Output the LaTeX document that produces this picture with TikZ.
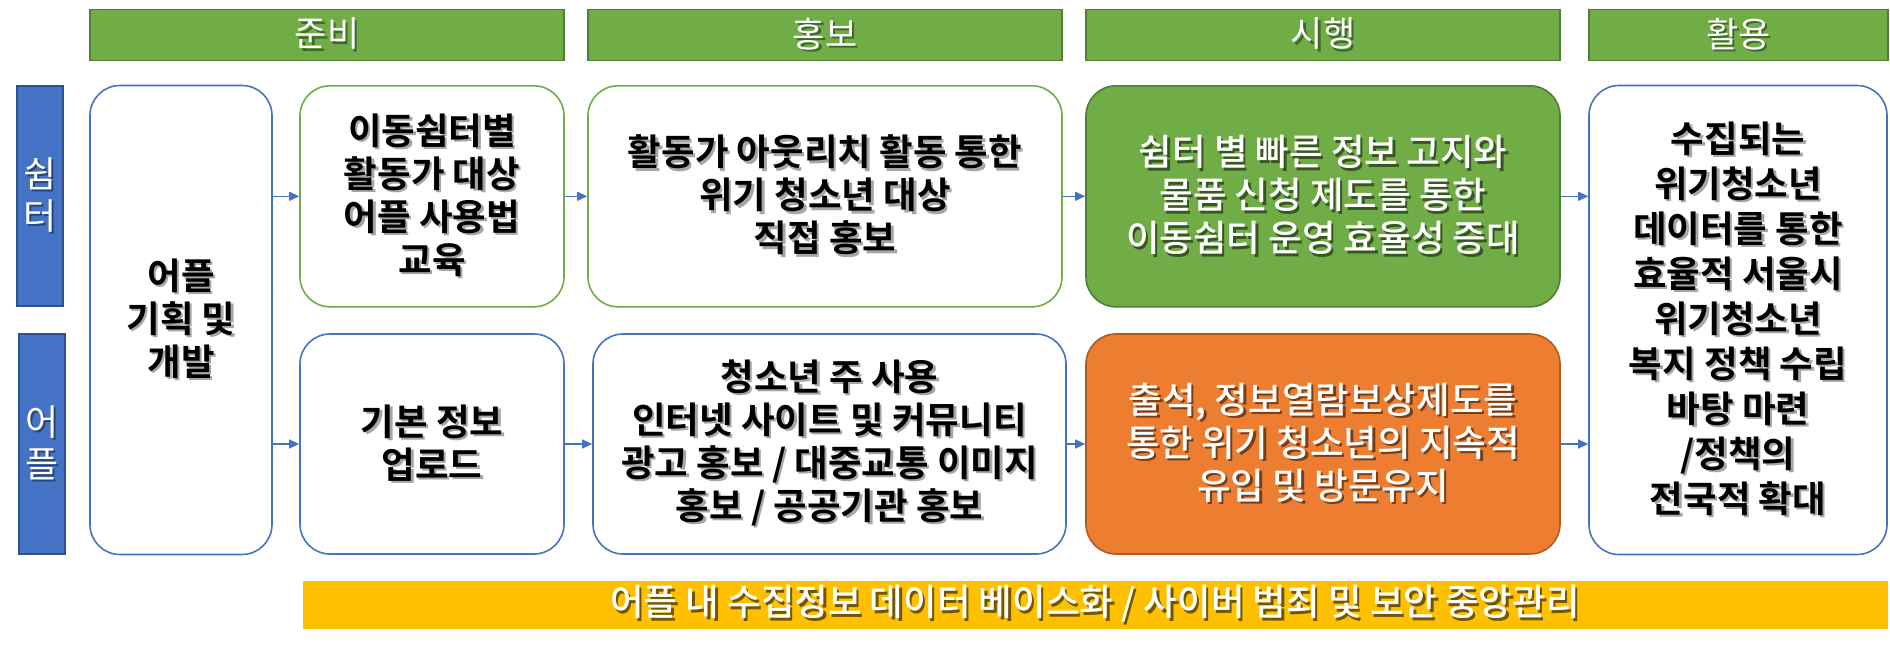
\documentclass[tikz,border=0pt]{standalone}
\usepackage{fontspec}
\newfontfamily\kr{Noto Sans CJK KR}[BoldFont={Noto Sans CJK KR Bold}]
\newfontfamily\krm{Noto Sans CJK KR Medium}
\usetikzlibrary{arrows.meta}
\definecolor{hgreen}{HTML}{70AD47}
\definecolor{hgreenb}{HTML}{507E32}
\definecolor{hblue}{HTML}{4472C4}
\definecolor{hblueb}{HTML}{2F528F}
\definecolor{horange}{HTML}{ED7D31}
\definecolor{horangeb}{HTML}{AE5A21}
\definecolor{hyellow}{HTML}{FFC000}
\newcommand\shcol{black!35}
\newcommand\sh[1]{\makebox[0pt][l]{\kern2.4pt\raisebox{-2.4pt}{\color{\shcol}#1}}#1}
\tikzset{
  basefont/.style={font={\krm\fontsize{36.5}{43}\selectfont}, align=center, inner sep=0pt},
  header/.style={basefont, font={\kr\fontsize{35}{43}\selectfont}, draw=hgreenb, fill=hgreen, line width=1.6pt, text=white,
    minimum height=51pt, execute at begin node={\def\shcol{black!40!hgreen}}},
  sidelab/.style={basefont, font={\kr\fontsize{36}{42}\selectfont}, draw=hblueb, fill=hblue, line width=1.6pt, text=white,
    minimum width=46pt, minimum height=220pt, execute at begin node={\def\shcol{black!40!hblue}}},
  wbox/.style={basefont, draw=hblue, fill=white, line width=1.6pt, rounded corners=30pt, text=black,
    font={\kr\bfseries\fontsize{36.5}{43}\selectfont}},
  gbox/.style={wbox, draw=hgreen},
  fbox/.style={basefont, draw=hgreenb, fill=hgreen, line width=1.6pt, rounded corners=30pt, text=white,
    execute at begin node={\def\shcol{black!50!hgreen}}},
  obox/.style={basefont, draw=horangeb, fill=horange, line width=1.6pt, rounded corners=30pt, text=white,
    execute at begin node={\def\shcol{black!50!horange}}},
  ybar/.style={basefont, fill=hyellow, text=white, minimum height=48pt,
    execute at begin node={\def\shcol{black!55!hyellow}}},
  conn/.style={draw=hblue, line width=1.2pt, -{Triangle[length=10pt,width=9pt]}},
}
\begin{document}
\begin{tikzpicture}[x=1pt,y=-1pt]
\useasboundingbox (0,0) rectangle (1890,654);
% headers
\node[header, minimum width=474pt] (h1) at (327,35) {\sh{준비}};
\node[header, minimum width=474pt] (h2) at (825,35) {\sh{홍보}};
\node[header, minimum width=474pt] (h3) at (1323,35) {\sh{시행}};
\node[header, minimum width=299pt] (h4) at (1738.5,35) {\sh{활용}};
% side labels
\node[sidelab] (l1) at (40,196) {\sh{쉼}\\\sh{터}};
\node[sidelab] (l2) at (42,444) {\sh{어}\\\sh{플}};
% boxes
\node[wbox, minimum width=182pt, minimum height=469pt] (app) at (181,320) {\sh{어플}\\\sh{기획 및}\\\sh{개발}};
\node[gbox, minimum width=264pt, minimum height=221pt] (b11) at (432,196.3) {\sh{이동쉼터별}\\\sh{활동가 대상}\\\sh{어플 사용법}\\\sh{교육}};
\node[wbox, minimum width=264pt, minimum height=220pt] (b21) at (432,444) {\sh{기본 정보}\\\sh{업로드}};
\node[gbox, minimum width=474pt, minimum height=221pt] (b12) at (825,196.3) {\sh{활동가 아웃리치 활동 통한}\\\sh{위기 청소년 대상}\\\sh{직접 홍보}};
\node[wbox, minimum width=473pt, minimum height=220pt] (b22) at (829.5,444) {\sh{청소년 주 사용}\\\sh{인터넷 사이트 및 커뮤니티}\\\sh{광고 홍보 / 대중교통 이미지}\\\sh{홍보 / 공공기관 홍보}};
\node[fbox, minimum width=474pt, minimum height=221pt] (b13) at (1323,196.3) {\sh{쉼터 별 빠른 정보 고지와}\\\sh{물품 신청 제도를 통한}\\\sh{이동쉼터 운영 효율성 증대}};
\node[obox, minimum width=474pt, minimum height=220pt] (b23) at (1323,444) {\sh{출석, 정보열람보상제도를}\\\sh{통한 위기 청소년의 지속적}\\\sh{유입 및 방문유지}};
\node[wbox, minimum width=298pt, minimum height=469pt, font={\kr\bfseries\fontsize{36.5}{45}\selectfont}] (res) at (1738,320) {\sh{수집되는}\\\sh{위기청소년}\\\sh{데이터를 통한}\\\sh{효율적 서울시}\\\sh{위기청소년}\\\sh{복지 정책 수립}\\\sh{바탕 마련}\\\sh{/정책의}\\\sh{전국적 확대}};
\node[ybar, minimum width=1585pt] (bar) at (1095,605) {\sh{어플 내 수집정보 데이터 베이스화 / 사이버 범죄 및 보안 중앙관리}};
% connectors
\draw[conn] (app.east |- b11.west) -- (b11.west);
\draw[conn] (app.east |- b21.west) -- (b21.west);
\draw[conn] (b11.east) -- (b12.west);
\draw[conn] (b21.east) -- (b22.west);
\draw[conn] (b12.east) -- (b13.west);
\draw[conn] (b22.east) -- (b23.west);
\draw[conn] (b13.east) -- (b13.east -| res.west);
\draw[conn] (b23.east) -- (b23.east -| res.west);
\end{tikzpicture}
\end{document}
